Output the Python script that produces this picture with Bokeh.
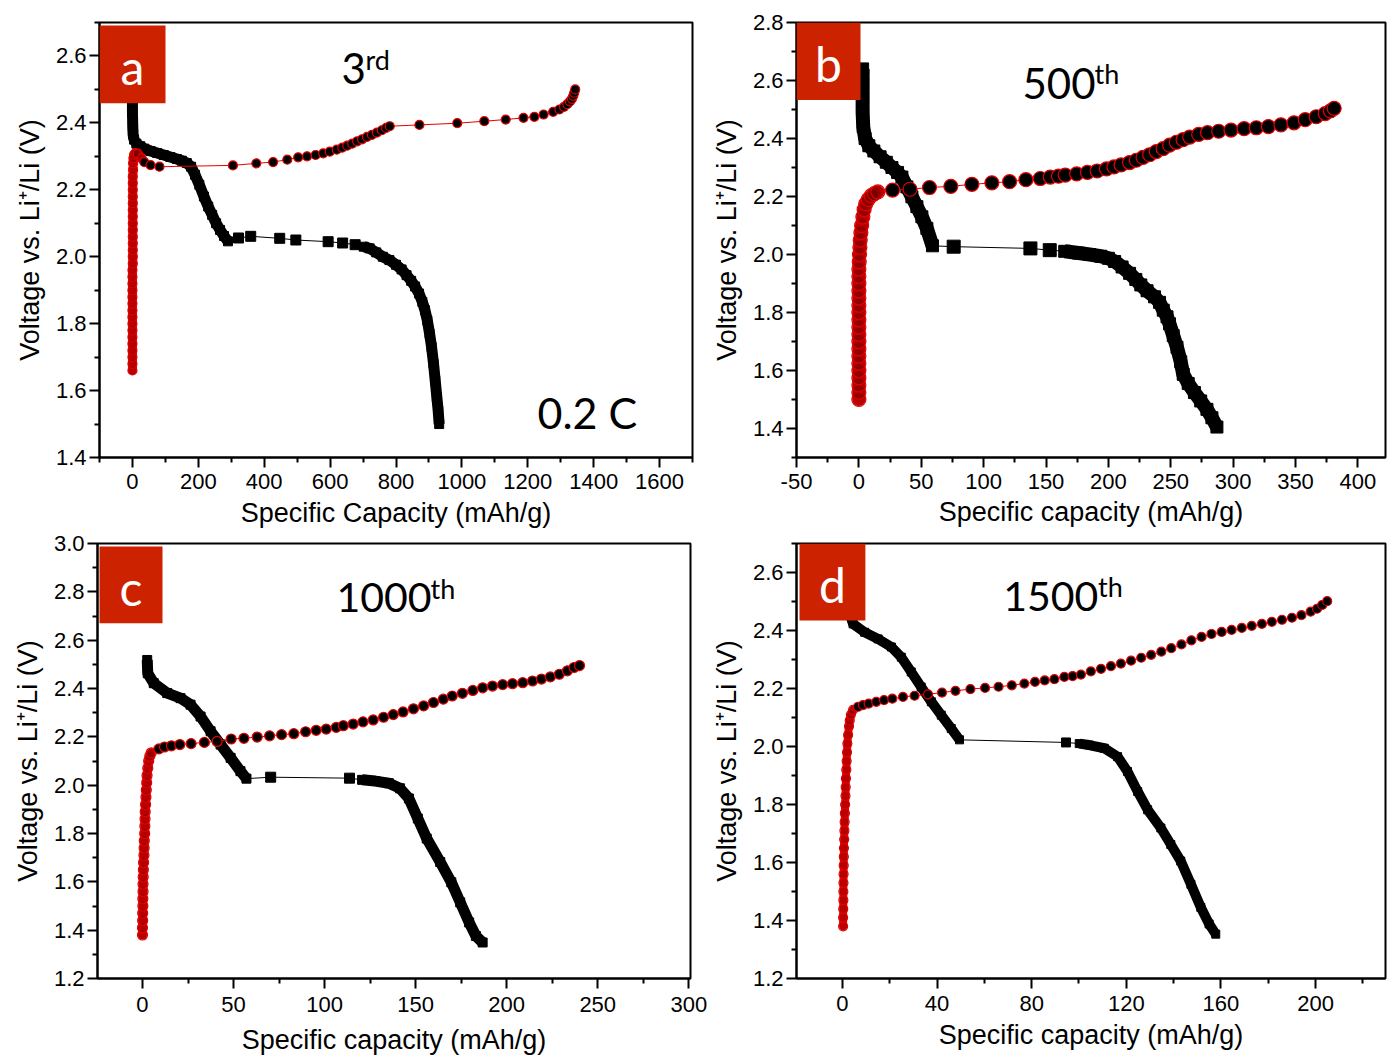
from bokeh.plotting import figure
from bokeh.layouts import column, row
from bokeh.models import FixedTicker, PrintfTickFormatter, BoxAnnotation, Label
from bokeh.embed import file_html
from bokeh.resources import INLINE

# ------------------------------------------------------------------ data
# panel a (3rd cycle, 0.2 C)
a_dis1_x = [0, 0, 0, 1, 2, 5, 12, 24, 36, 55, 75, 95, 115, 135, 150, 165, 178, 190, 203, 217, 230, 242, 254, 266, 278, 290]
a_dis1_v = [2.55, 2.49, 2.43, 2.39, 2.365, 2.35, 2.338, 2.33, 2.323, 2.316, 2.31, 2.304, 2.298, 2.292, 2.287, 2.28, 2.269, 2.245, 2.215, 2.18, 2.15, 2.125, 2.10, 2.08, 2.062, 2.046]
a_dis_s_x = [322, 359, 447, 496, 594, 638, 676]
a_dis_s_v = [2.056, 2.061, 2.055, 2.050, 2.045, 2.041, 2.036]
a_dis2_x = [702, 720, 740, 760, 780, 800, 817, 832, 846, 858, 870, 880, 888, 895, 902, 908, 914, 919, 924, 928, 931]
a_dis2_v = [2.030, 2.025, 2.013, 2.0, 1.99, 1.976, 1.962, 1.945, 1.928, 1.911, 1.89, 1.865, 1.84, 1.81, 1.77, 1.73, 1.68, 1.63, 1.58, 1.54, 1.50]
a_chg1_x = [0, 0, 0, 0, 0, 0, 0, 0, 0, 0, 0, 0, 0, 0, 0, 0, 1, 1, 1, 1, 1, 1, 1, 1, 1, 1, 1, 1, 1, 1, 2, 2, 3, 5, 9, 16, 28]
a_chg1_v = [1.66, 1.68, 1.70, 1.72, 1.74, 1.76, 1.78, 1.80, 1.82, 1.84, 1.86, 1.88, 1.90, 1.92, 1.94, 1.96, 1.98, 2.00, 2.02, 2.04, 2.06, 2.08, 2.10, 2.12, 2.14, 2.16, 2.18, 2.20, 2.22, 2.24, 2.26, 2.28, 2.295, 2.305, 2.31, 2.308, 2.294]
a_chg_s_x = [36, 55, 82, 305, 376, 427, 470, 503, 530, 556, 579, 599, 620, 637, 652, 667, 682, 697, 712, 727, 742, 757, 770, 781, 871, 986, 1068, 1133, 1187, 1220, 1248, 1277, 1296, 1310, 1320, 1328, 1334, 1338, 1341, 1344]
a_chg_s_v = [2.283, 2.274, 2.269, 2.273, 2.279, 2.283, 2.290, 2.297, 2.300, 2.304, 2.309, 2.314, 2.320, 2.326, 2.332, 2.338, 2.345, 2.351, 2.358, 2.364, 2.371, 2.378, 2.385, 2.390, 2.394, 2.399, 2.405, 2.410, 2.415, 2.418, 2.425, 2.433, 2.440, 2.448, 2.456, 2.464, 2.472, 2.481, 2.490, 2.500]

# panel b (500th cycle)
b_dis1_x = [3, 3, 3, 3, 3.5, 5, 8, 12, 17, 22, 26.5, 31, 34.5, 38.5, 42.5, 46.5, 50.5, 54.5, 59]
b_dis1_v = [2.64, 2.59, 2.54, 2.49, 2.44, 2.40, 2.375, 2.357, 2.337, 2.318, 2.30, 2.283, 2.267, 2.233, 2.199, 2.165, 2.130, 2.09, 2.03]
b_dis_s_x = [76, 137.5, 153]
b_dis_s_v = [2.027, 2.021, 2.015]
b_dis2_x = [165, 176, 185, 194, 200, 205, 211, 217, 222, 226, 231, 237, 241, 244, 247, 249, 252, 255, 258, 260, 264, 269, 274, 279, 283, 287]
b_dis2_v = [2.011, 2.005, 2.0, 1.994, 1.987, 1.976, 1.957, 1.935, 1.914, 1.895, 1.875, 1.854, 1.835, 1.808, 1.785, 1.761, 1.72, 1.68, 1.63, 1.587, 1.555, 1.524, 1.495, 1.466, 1.437, 1.405]
b_chg1_x = [0, 0, 0, 0, 0, 0, 0, 0, 0, 0, 0, 0, 0, 0, 0, 0, 0, 0, 0, 0.3, 0.5, 0.8, 1.1, 1.6, 2.2, 3.2, 4.2, 5.5, 7.5, 10, 12.5, 15.2]
b_chg1_v = [1.50, 1.525, 1.55, 1.575, 1.60, 1.625, 1.65, 1.675, 1.70, 1.725, 1.75, 1.775, 1.80, 1.825, 1.85, 1.875, 1.90, 1.925, 1.95, 1.975, 2.00, 2.025, 2.05, 2.075, 2.10, 2.13, 2.155, 2.175, 2.19, 2.203, 2.21, 2.216]
b_chg_s_x = [27, 41, 56.6, 73.7, 90.6, 106.6, 120.8, 133.9, 145.4, 153.4, 160, 165.4, 174.6, 183.2, 191, 198.5, 204.5, 210.2, 217, 222.4, 227.8, 233.1, 238.4, 243.9, 249.1, 254.5, 259.9, 265.2, 272.4, 279.5, 288.4, 298.3, 308.8, 318.6, 328.3, 338.3, 348.8, 357.8, 366.6, 373.8, 378, 381]
b_chg_s_v = [2.222, 2.225, 2.231, 2.235, 2.242, 2.247, 2.251, 2.258, 2.262, 2.267, 2.270, 2.274, 2.278, 2.283, 2.288, 2.295, 2.302, 2.309, 2.317, 2.325, 2.335, 2.344, 2.355, 2.365, 2.377, 2.387, 2.396, 2.405, 2.414, 2.420, 2.425, 2.429, 2.434, 2.437, 2.441, 2.447, 2.454, 2.465, 2.475, 2.486, 2.495, 2.504]

# panel c (1000th cycle)
c_dis1_x = [2.6, 2.9, 6.2, 13.6, 20.9, 26.4, 31.9, 37.4, 42.9, 48.4, 53.8, 57.1]
c_dis1_v = [2.518, 2.463, 2.422, 2.381, 2.360, 2.333, 2.284, 2.223, 2.168, 2.113, 2.058, 2.027]
c_dis_s_x = [70.4, 113.7]
c_dis_s_v = [2.033, 2.029]
c_dis2_x = [120.6, 127.9, 135.3, 141.4, 146.3, 151.2, 156.1, 163.5, 169.6, 174.5, 179.4, 183.1, 186.8]
c_dis2_v = [2.022, 2.017, 2.008, 1.987, 1.945, 1.862, 1.779, 1.682, 1.598, 1.515, 1.432, 1.376, 1.349]
c_chg1_x = [0, 0, 0.1, 0.1, 0.2, 0.2, 0.3, 0.3, 0.4, 0.5, 0.6, 0.8, 0.9, 1.0, 1.2, 1.3, 1.4, 1.5, 1.7, 1.9, 2.1, 2.3, 2.5, 2.9, 3.4, 4.0, 4.8]
c_chg1_v = [1.38, 1.41, 1.44, 1.47, 1.50, 1.53, 1.56, 1.59, 1.62, 1.65, 1.68, 1.71, 1.74, 1.77, 1.80, 1.83, 1.86, 1.89, 1.92, 1.95, 1.98, 2.01, 2.04, 2.07, 2.10, 2.12, 2.134]
c_chg_s_x = [9, 12.1, 15.9, 20.5, 26.7, 34, 41, 48.7, 55.7, 63, 69.8, 76.4, 83.1, 89.6, 95.4, 100.9, 106.4, 110.3, 115.7, 121.1, 126.7, 132.4, 137.7, 143.1, 148.8, 154.4, 159.8, 165.2, 170.1, 175.7, 181.4, 186.8, 192.2, 197.8, 203.2, 208.8, 214.2, 219.1, 224, 228.9, 233.3, 237, 240]
c_chg_s_v = [2.150, 2.158, 2.163, 2.168, 2.172, 2.177, 2.181, 2.191, 2.194, 2.199, 2.204, 2.209, 2.213, 2.221, 2.227, 2.232, 2.239, 2.246, 2.253, 2.262, 2.270, 2.281, 2.292, 2.303, 2.316, 2.328, 2.342, 2.356, 2.369, 2.380, 2.392, 2.403, 2.410, 2.416, 2.420, 2.424, 2.431, 2.439, 2.448, 2.459, 2.473, 2.487, 2.495]

# panel d (1500th cycle)
d_dis1_x = [1.5, 2.5, 4.5, 9.4, 15.1, 20.7, 24.9, 29.1, 33.3, 37.6, 41.8, 46, 49.5]
d_dis1_v = [2.52, 2.47, 2.423, 2.394, 2.371, 2.343, 2.308, 2.257, 2.205, 2.154, 2.108, 2.062, 2.023]
d_dis_s_x = [94.5]
d_dis_s_v = [2.014]
d_dis2_x = [100.1, 104.3, 110.7, 116.3, 120.5, 124.8, 129, 134.6, 138.8, 143, 147.3, 151.5, 155, 157.8]
d_dis2_v = [2.010, 2.005, 1.994, 1.965, 1.914, 1.845, 1.782, 1.719, 1.662, 1.605, 1.525, 1.445, 1.388, 1.353]
d_chg1_x = [0.3, 0.3, 0.35, 0.4, 0.4, 0.45, 0.5, 0.55, 0.6, 0.65, 0.75, 0.85, 0.95, 1.05, 1.15, 1.3, 1.4, 1.5, 1.65, 1.8, 1.95, 2.1, 2.4, 2.8, 3.1, 3.6, 4.5]
d_chg1_v = [1.38, 1.41, 1.44, 1.47, 1.50, 1.53, 1.56, 1.59, 1.62, 1.65, 1.68, 1.71, 1.74, 1.77, 1.80, 1.83, 1.86, 1.89, 1.92, 1.95, 1.98, 2.01, 2.04, 2.07, 2.09, 2.11, 2.126]
d_chg_s_x = [6.6, 8.7, 11.1, 14.3, 17.6, 21.1, 25.6, 30.5, 36.2, 42.1, 47.8, 54.1, 60.3, 66, 71.6, 76.9, 81.4, 85.5, 89.6, 93.8, 97.3, 100.8, 105, 109.3, 113.5, 117.7, 122, 126.3, 130.5, 134.8, 139, 143.3, 147.5, 151.8, 156, 160.3, 164.5, 168.8, 173, 177.3, 181.5, 185.8, 190, 194, 197.9, 200.6, 202.8, 204.9]
d_chg_s_v = [2.137, 2.143, 2.148, 2.154, 2.160, 2.165, 2.171, 2.175, 2.180, 2.186, 2.192, 2.198, 2.202, 2.206, 2.211, 2.217, 2.223, 2.228, 2.232, 2.240, 2.243, 2.248, 2.259, 2.268, 2.277, 2.286, 2.296, 2.306, 2.316, 2.327, 2.339, 2.352, 2.366, 2.378, 2.388, 2.395, 2.402, 2.409, 2.416, 2.423, 2.430, 2.437, 2.444, 2.453, 2.465, 2.475, 2.488, 2.501]

# ticks
a_xticks = [0, 200, 400, 600, 800, 1000, 1200, 1400, 1600]
a_xminor = [-100, 100, 300, 500, 700, 900, 1100, 1300, 1500, 1700]
a_yticks = [1.4, 1.6, 1.8, 2.0, 2.2, 2.4, 2.6]
a_yminor = [1.5, 1.7, 1.9, 2.1, 2.3, 2.5, 2.7]
b_xticks = [-50, 0, 50, 100, 150, 200, 250, 300, 350, 400]
b_xminor = [-25, 25, 75, 125, 175, 225, 275, 325, 375]
b_yticks = [1.4, 1.6, 1.8, 2.0, 2.2, 2.4, 2.6, 2.8]
b_yminor = [1.3, 1.5, 1.7, 1.9, 2.1, 2.3, 2.5, 2.7]
c_xticks = [0, 50, 100, 150, 200, 250, 300]
c_xminor = [-25, 25, 75, 125, 175, 225, 275]
c_yticks = [1.2, 1.4, 1.6, 1.8, 2.0, 2.2, 2.4, 2.6, 2.8, 3.0]
c_yminor = [1.3, 1.5, 1.7, 1.9, 2.1, 2.3, 2.5, 2.7, 2.9]
d_xticks = [0, 40, 80, 120, 160, 200]
d_xminor = [-20, 20, 60, 100, 140, 180, 220]
d_yticks = [1.2, 1.4, 1.6, 1.8, 2.0, 2.2, 2.4, 2.6]
d_yminor = [1.3, 1.5, 1.7, 1.9, 2.1, 2.3, 2.5, 2.7]

Y_LABEL = "Voltage vs. Li\u207a/Li (V)"

# ------------------------------------------------------------------ style
RED = "#e60000"
BOXRED = "#cc2200"
AXFONT = "Liberation Sans"
ANFONT = "Lato"
BASE_SHIFT = 0.35   # label anchor correction (fraction of font size)


def px2x(cfg, px):
    return cfg["xs"] + (px - cfg["fl"]) * (cfg["xe"] - cfg["xs"]) / cfg["fw"]


def px2y(cfg, py):
    return cfg["ye"] - (py - cfg["ft"]) * (cfg["ye"] - cfg["ys"]) / cfg["fh"]


def add_text(p, cfg, text, px, py, fs, color="black", align="left"):
    p.add_layout(Label(x=px2x(cfg, px), y=px2y(cfg, py - BASE_SHIFT * fs), text=text,
                       text_font=ANFONT, text_font_size=f"{fs}px", text_color=color,
                       text_align=align, text_baseline="alphabetic"))


def build(cfg, xticks, xminor, yticks, yminor, xlabel, dis, chg, st, letter, cyc, extra=None):
    p = figure(width=cfg["w"], height=cfg["h"],
               x_range=(cfg["xs"], cfg["xe"]), y_range=(cfg["ys"], cfg["ye"]),
               toolbar_location=None, output_backend="svg",
               min_border_left=cfg["bl"], min_border_right=cfg["br"],
               min_border_top=cfg["bt"], min_border_bottom=cfg["bb"])
    p.xgrid.visible = False
    p.ygrid.visible = False
    p.outline_line_color = "black"
    p.outline_line_width = 2
    p.outline_line_alpha = 1
    p.background_fill_color = "white"
    p.border_fill_color = "white"

    p.xaxis.ticker = FixedTicker(ticks=xticks, minor_ticks=xminor)
    p.yaxis.ticker = FixedTicker(ticks=yticks, minor_ticks=yminor)
    p.xaxis.formatter = PrintfTickFormatter(format="%d")
    p.yaxis.formatter = PrintfTickFormatter(format="%.1f")
    p.xaxis.axis_label = xlabel
    p.yaxis.axis_label = Y_LABEL
    for ax in (p.xaxis[0], p.yaxis[0]):
        ax.axis_line_width = 2
        ax.axis_line_color = "black"
        ax.major_tick_line_width = 2
        ax.minor_tick_line_width = 2
        ax.major_tick_out = 10
        ax.major_tick_in = 0
        ax.minor_tick_out = 5
        ax.minor_tick_in = 0
        ax.major_label_text_font = AXFONT
        ax.major_label_text_font_size = "22px"
        ax.major_label_text_color = "black"
        ax.axis_label_text_font = AXFONT
        ax.axis_label_text_font_size = "27px"
        ax.axis_label_text_font_style = "normal"
        ax.axis_label_text_color = "black"
    p.xaxis.major_label_standoff = cfg["xls"]
    p.xaxis.axis_label_standoff = cfg["xas"]
    p.yaxis.major_label_standoff = 3
    p.yaxis.axis_label_standoff = 8

    # discharge: black squares
    d1x, d1v, dsx, dsv, d2x, d2v = dis
    allx = d1x + dsx + d2x
    allv = d1v + dsv + d2v
    p.line(allx, allv, line_color="black", line_width=1)
    p.line(d1x, d1v, line_color="black", line_width=st["band"], line_join="round")
    p.line(d2x, d2v, line_color="black", line_width=st["band"], line_join="round")
    p.scatter(d1x + d2x, d1v + d2v, marker="square", size=st["band"] - 2,
              fill_color="black", line_color="black")
    p.scatter(dsx, dsv, marker="square", size=st["sq"], fill_color="black", line_color="black")

    # charge: black circles with red outline
    c1x, c1v, csx, csv = chg
    p.line(c1x + csx, c1v + csv, line_color=RED, line_width=1)
    p.line(c1x, c1v, line_color=RED, line_width=st["cband"], line_join="round", line_cap="round")
    p.scatter(c1x, c1v, marker="circle", size=st["ci"], fill_color="black", fill_alpha=0.2,
              line_color=RED, line_width=1.2)
    p.scatter(csx, csv, marker="circle", size=st["ci"], fill_color="black",
              line_color=RED, line_width=1.2)

    # panel letter box
    bl, bt, br, bb = cfg["box"]
    p.add_layout(BoxAnnotation(left=px2x(cfg, bl), right=px2x(cfg, br),
                               top=px2y(cfg, bt), bottom=px2y(cfg, bb),
                               fill_color=BOXRED, fill_alpha=1, line_alpha=0))
    add_text(p, cfg, letter, (bl + br) / 2, bt + 58, 48, color="white", align="center")
    # cycle label with superscript
    (num, nx, ny, nfs), (sup, sx, sy) = cyc
    add_text(p, cfg, num, nx, ny, nfs)
    add_text(p, cfg, sup, sx, sy, 27)
    if extra:
        t, ex, ey = extra
        add_text(p, cfg, t, ex, ey, 43)
    return p


cfg_a = dict(w=708, h=530, bl=99, br=16, bt=22, bb=71, fl=99, ft=22, fw=593, fh=437,
             xs=-100, xe=1700, ys=1.4, ye=2.7, box=(99, 25, 165, 103), xls=6, xas=6)
cfg_b = dict(w=679, h=530, bl=88, br=2, bt=21, bb=71, fl=796, ft=21, fw=589, fh=438,
             xs=-50, xe=-50 + 589 / 1.2475, ys=1.3, ye=2.8, box=(796, 21, 860, 99), xls=6, xas=5)
cfg_c = dict(w=708, h=528, bl=97, br=18, bt=13, bb=78, fl=97, ft=543, fw=593, fh=437,
             xs=-24.7, xe=-24.7 + 593 / 1.821, ys=1.2, ye=3.0, box=(99, 546, 162, 623), xls=8, xas=10)
cfg_d = dict(w=679, h=528, bl=87, br=2, bt=13, bb=80, fl=795, ft=543, fw=590, fh=435,
             xs=-19.4, xe=-19.4 + 590 / 2.37, ys=1.2, ye=2.7, box=(798, 543, 864, 620), xls=7, xas=6)

pa = build(cfg_a, a_xticks, a_xminor, a_yticks, a_yminor, "Specific Capacity (mAh/g)",
           (a_dis1_x, a_dis1_v, a_dis_s_x, a_dis_s_v, a_dis2_x, a_dis2_v),
           (a_chg1_x, a_chg1_v, a_chg_s_x, a_chg_s_v),
           dict(band=11, sq=10, ci=9, cband=9), "a",
           (("3", 341, 83, 42), ("rd", 365, 69)), extra=("0.2 C", 537, 429))
pb = build(cfg_b, b_xticks, b_xminor, b_yticks, b_yminor, "Specific capacity (mAh/g)",
           (b_dis1_x, b_dis1_v, b_dis_s_x, b_dis_s_v, b_dis2_x, b_dis2_v),
           (b_chg1_x, b_chg1_v, b_chg_s_x, b_chg_s_v),
           dict(band=14, sq=13, ci=14, cband=13), "b",
           (("500", 1022, 97, 42), ("th", 1094, 82)))
pc = build(cfg_c, c_xticks, c_xminor, c_yticks, c_yminor, "Specific capacity (mAh/g)",
           (c_dis1_x, c_dis1_v, c_dis_s_x, c_dis_s_v, c_dis2_x, c_dis2_v),
           (c_chg1_x, c_chg1_v, c_chg_s_x, c_chg_s_v),
           dict(band=11, sq=10, ci=10, cband=9), "c",
           (("1000", 336, 612, 41), ("th", 430, 598)))
pd = build(cfg_d, d_xticks, d_xminor, d_yticks, d_yminor, "Specific capacity (mAh/g)",
           (d_dis1_x, d_dis1_v, d_dis_s_x, d_dis_s_v, d_dis2_x, d_dis2_v),
           (d_chg1_x, d_chg1_v, d_chg_s_x, d_chg_s_v),
           dict(band=10, sq=9, ci=9, cband=8), "d",
           (("1500", 1002, 610, 41), ("th", 1097, 595)))

layout = column(row(pa, pb), row(pc, pd))
open("out.html", "w").write(file_html(layout, INLINE))
